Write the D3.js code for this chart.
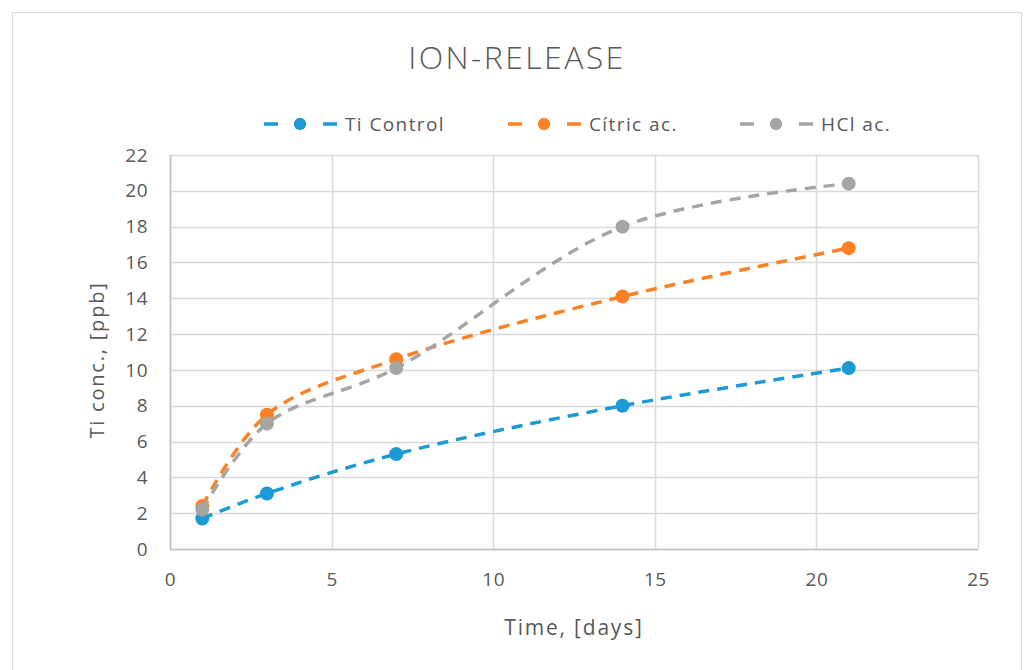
<!DOCTYPE html>
<html>
<head>
<meta charset="utf-8">
<script src="https://cdn.jsdelivr.net/npm/d3@7"></script>
<style>
  body { margin: 0; background: #fff; }
  text { font-family: "Open Sans", "Noto Sans", sans-serif; fill: #595959; }
</style>
</head>
<body>
<div id="chart"></div>
<script>
const width = 1025;
const height = 670;

// data
const days = [1, 3, 7, 14, 21];
const tiControl = [1.7, 3.1, 5.3, 8.0, 10.1];
const citricAc = [2.4, 7.5, 10.6, 14.1, 16.8];
const hclAc = [2.2, 7.0, 10.1, 18.0, 20.4];
const seriesNames = ['Ti Control', 'Cítric ac.', 'HCl ac.'];
const seriesColors = ['#1b9ad6', '#fb8124', '#a5a5a5'];
const xTicks = [0, 5, 10, 15, 20, 25];
const yTicks = [0, 2, 4, 6, 8, 10, 12, 14, 16, 18, 20, 22];

const series = [tiControl, citricAc, hclAc].map((vals, i) => ({
  name: seriesNames[i],
  color: seriesColors[i],
  points: vals.map((v, j) => ({ x: days[j], y: v }))
}));

// plot box
const plotLeft = 170;
const plotRight = 978;
const plotTop = 155;
const plotBottom = 549;

const x = d3.scaleLinear().domain([0, 25]).range([plotLeft, plotRight]);
const y = d3.scaleLinear().domain([0, 22]).range([plotBottom, plotTop]);

const svg = d3.select('#chart').append('svg')
  .attr('width', width)
  .attr('height', height);

// chart border
svg.append('rect')
  .attr('x', 12.5).attr('y', 12.5)
  .attr('width', 1009).attr('height', 700)
  .attr('fill', '#fff')
  .attr('stroke', '#d9d9d9');

// gridlines
svg.append('g')
  .selectAll('line')
  .data(yTicks)
  .join('line')
    .attr('x1', plotLeft).attr('x2', plotRight)
    .attr('y1', d => Math.round(y(d)) + 0.5)
    .attr('y2', d => Math.round(y(d)) + 0.5)
    .attr('stroke', '#d9d9d9')
    .attr('stroke-width', 1.5);

svg.append('g')
  .selectAll('line')
  .data(xTicks)
  .join('line')
    .attr('y1', plotTop).attr('y2', plotBottom)
    .attr('x1', d => Math.round(x(d)) + 0.5)
    .attr('x2', d => Math.round(x(d)) + 0.5)
    .attr('stroke', '#d9d9d9')
    .attr('stroke-width', 1.5);

// axis lines
svg.append('line')
  .attr('x1', plotLeft).attr('x2', plotRight)
  .attr('y1', plotBottom + 0.5).attr('y2', plotBottom + 0.5)
  .attr('stroke', '#bfbfbf').attr('stroke-width', 1.5);
svg.append('line')
  .attr('x1', plotLeft + 0.5).attr('x2', plotLeft + 0.5)
  .attr('y1', plotTop).attr('y2', plotBottom)
  .attr('stroke', '#bfbfbf').attr('stroke-width', 1.5);

// tick labels
const yAxis = d3.axisLeft(y).tickValues(yTicks).tickSize(0).tickPadding(22);
svg.append('g')
  .attr('transform', `translate(${plotLeft},0)`)
  .call(yAxis)
  .call(g => g.select('.domain').remove())
  .selectAll('text')
    .attr('font-size', 19)
    .attr('font-family', null)
    .attr('letter-spacing', 0.5)
    .attr('fill', '#595959');

const xAxis = d3.axisBottom(x).tickValues(xTicks).tickSize(0).tickPadding(24);
svg.append('g')
  .attr('transform', `translate(0,${plotBottom})`)
  .call(xAxis)
  .call(g => g.select('.domain').remove())
  .selectAll('text')
    .attr('font-size', 19)
    .attr('font-family', null)
    .attr('letter-spacing', 0.5)
    .attr('fill', '#595959');

// axis titles
svg.append('text')
  .attr('x', 574).attr('y', 635)
  .attr('text-anchor', 'middle')
  .attr('font-size', 21)
  .attr('letter-spacing', 1.8)
  .text('Time, [days]');

svg.append('text')
  .attr('transform', 'translate(104,360) rotate(-90)')
  .attr('text-anchor', 'middle')
  .attr('font-size', 20)
  .attr('letter-spacing', 1.8)
  .text('Ti conc., [ppb]');

// title
svg.append('text')
  .attr('x', 517).attr('y', 69)
  .attr('text-anchor', 'middle')
  .attr('font-size', 32)
  .attr('font-weight', 300)
  .attr('letter-spacing', 2.4)
  .text('ION-RELEASE');

// lines
const line = d3.line()
  .x(d => x(d.x))
  .y(d => y(d.y))
  .curve(d3.curveCatmullRom.alpha(0.5));

const seriesG = svg.append('g')
  .selectAll('g')
  .data(series)
  .join('g');

seriesG.append('path')
  .attr('d', d => line(d.points))
  .attr('fill', 'none')
  .attr('stroke', d => d.color)
  .attr('stroke-width', 3.5)
  .attr('stroke-dasharray', '11,8');

seriesG.selectAll('circle')
  .data(d => d.points.map(p => Object.assign({ color: d.color }, p)))
  .join('circle')
    .attr('cx', d => x(d.x))
    .attr('cy', d => y(d.y))
    .attr('r', 7)
    .attr('fill', d => d.color);

// legend (x = marker centre)
const legendX = [300, 544, 776];
const legend = svg.append('g')
  .selectAll('g')
  .data(series)
  .join('g')
    .attr('transform', (d, i) => `translate(${legendX[i]},124)`);

legend.append('line')
  .attr('x1', -36).attr('x2', 38)
  .attr('stroke', d => d.color)
  .attr('stroke-width', 3.5)
  .attr('stroke-dasharray', '14,45');

legend.append('path')
  .attr('d', d3.symbol(d3.symbolCircle, 120))
  .attr('fill', d => d.color);

legend.append('text')
  .attr('x', 45).attr('y', 7)
  .attr('font-size', 19)
  .attr('letter-spacing', 1.4)
  .text(d => d.name);
</script>
</body>
</html>
